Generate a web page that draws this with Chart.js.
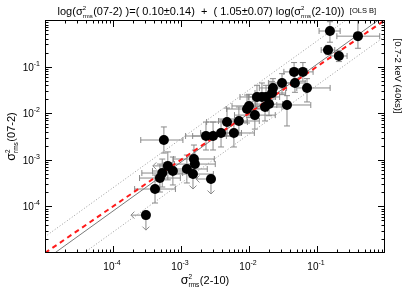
<!DOCTYPE html>
<html><head><meta charset="utf-8">
<script src="https://cdn.jsdelivr.net/npm/chart.js@4.4.0/dist/chart.umd.min.js"></script>
<style>html,body{margin:0;padding:0;background:#fff}#wrap{width:407px;height:291px;position:relative}</style>
</head><body><div id="wrap"><canvas id="c" width="407" height="291"></canvas></div>
<script>
// ---- data ----
const xVals = [0.155,0.40,0.145,0.21,0.046,0.062,0.0306,0.0474,0.0713,0.0225,0.0218,0.0131,0.0155,0.0178,0.0172,0.0197,0.0362,0.00935,0.010,0.0122,0.0071,5.6e-4,0.00233,0.00296,0.00388,0.00475,0.006,0.00155,0.0016,6.4e-4,5.3e-4,7.6e-4,0.00122,0.0015,0.00276,4.9e-4,4.15e-4,3.05e-4];
const yVals = [0.58,0.45,0.227,0.169,0.077,0.077,0.0445,0.0445,0.0348,0.0348,0.0271,0.0223,0.0223,0.0223,0.0136,0.0157,0.015,0.0123,0.0143,0.0091,0.0068,0.00266,0.00324,0.00324,0.00376,0.00647,0.00376,0.00104,8.1e-4,7.4e-4,5.2e-4,5.75e-4,6.35e-4,4.95e-4,3.87e-4,4.06e-4,2.36e-4,6.5e-5];
// error bars in dex
const xErrLo = [0.16,0.31,0.10,0.12,0.15,0.15,0.20,0.15,0.15,0.20,0.25,0.25,0.20,0.20,0.25,0.20,0.15,0.30,0.25,0.30,0.30,0.34,0.30,0.30,0.30,0.30,0.30,0.30,0.30,0,0.30,0.30,0.30,0.30,0,0.30,0.30,0];
const xErrHi = [0.15,0.32,0.10,0.12,0.15,0.15,0.20,0.15,0.34,0.20,0.20,0.25,0.20,0.20,0.25,0.20,0.35,0.30,0.25,0.30,0.30,0.28,0.30,0.30,0.30,0.30,0.30,0.30,0.30,0,0.30,0.30,0.30,0.30,0,0.30,0.30,0];
const yErrLo = [0.24,0.26,0.10,0.12,0.20,0.20,0.25,0.20,0.30,0.20,0.25,0.25,0.20,0.25,0.30,0.25,0.45,0.30,0.25,0.30,0.30,0.28,0.30,0.30,0.30,0.30,0.30,0.30,0.30,0.30,0.30,0.30,0.30,0,0,0.30,0.30,0];
const yErrHi = [0.20,0.34,0.10,0.12,0.20,0.20,0.20,0.20,0.20,0.20,0.25,0.25,0.30,0.25,0.25,0.25,0.20,0.30,0.25,0.30,0.30,0.28,0.30,0.30,0.30,0.30,0.30,0.30,0.30,0.30,0.30,0.30,0.30,0,0,0.30,0.30,0];
const xIsLimit = [0,0,0,0,0,0,0,0,0,0,0,0,0,0,0,0,0,0,0,0,0,0,0,0,0,0,0,0,0,1,0,0,0,0,1,0,0,1];
const yIsLimit = [0,0,0,0,0,0,0,0,0,0,0,0,0,0,0,0,0,0,0,0,0,0,0,0,0,0,0,0,0,0,0,0,0,1,1,0,0,1];
const fitIntercept = 0.10, fitInterceptErr = 0.14, fitSlope = 1.05, fitSlopeErr = 0.07;
const bandUp = 0.5, bandDown = -0.45;
const axisMin = 1e-5, axisMax = 1;
const xTickExps = [-4,-3,-2,-1];
const yTickExps = [-4,-3,-2,-1];

const fitY = (x, off) => Math.pow(10, fitIntercept + off + fitSlope*Math.log10(x));
const lineX = [axisMin, axisMax];

const FONT = '"Liberation Sans", Arial, Helvetica, sans-serif';

function drawRich(ctx, parts, x, y, align){
  const widths = parts.map(p=>{
    ctx.font = p.size+'px '+FONT;
    if(p.stack){ const a=ctx.measureText(p.sup).width, b=ctx.measureText(p.sub).width; return Math.max(a,b)+0.5; }
    return ctx.measureText(p.t).width;
  });
  const w = widths.reduce((s,v)=>s+v,0);
  let cx = align==='center' ? x - w/2 : (align==='right' ? x - w : x);
  ctx.textAlign='left'; ctx.textBaseline='alphabetic';
  parts.forEach((p,i)=>{
    ctx.font = p.size+'px '+FONT;
    if(p.stack){
      ctx.fillText(p.sup, cx, y - p.upOff);
      ctx.fillText(p.sub, cx, y + p.downOff);
    } else {
      ctx.fillText(p.t, cx, y - (p.dy||0));
    }
    cx += widths[i];
  });
  return w;
}

const errPlugin = {
  id:'errbars',
  beforeDatasetsDraw(chart){
    const {ctx, chartArea:a} = chart; const xs = chart.scales.x, ys = chart.scales.y;
    ctx.save();
    ctx.beginPath(); ctx.rect(a.left,a.top,a.right-a.left,a.bottom-a.top); ctx.clip();
    ctx.strokeStyle='#8a8a8a'; ctx.lineWidth=1;
    const cap=3, alen=15, ah=3.5;
    for(let i=0;i<xVals.length;i++){
      const px=xs.getPixelForValue(xVals[i]), py=ys.getPixelForValue(yVals[i]);
      ctx.beginPath();
      if(xIsLimit[i]){
        ctx.moveTo(px,py); ctx.lineTo(px-alen,py);
        ctx.moveTo(px-alen+ah,py-ah); ctx.lineTo(px-alen,py); ctx.lineTo(px-alen+ah,py+ah);
      } else {
        const x0=xs.getPixelForValue(xVals[i]/Math.pow(10,xErrLo[i])), x1=xs.getPixelForValue(xVals[i]*Math.pow(10,xErrHi[i]));
        ctx.moveTo(x0,py); ctx.lineTo(x1,py);
        ctx.moveTo(x0,py-cap); ctx.lineTo(x0,py+cap);
        ctx.moveTo(x1,py-cap); ctx.lineTo(x1,py+cap);
      }
      if(yIsLimit[i]){
        ctx.moveTo(px,py); ctx.lineTo(px,py+alen);
        ctx.moveTo(px-ah,py+alen-ah); ctx.lineTo(px,py+alen); ctx.lineTo(px+ah,py+alen-ah);
      } else {
        const y0=ys.getPixelForValue(yVals[i]/Math.pow(10,yErrLo[i])), y1=ys.getPixelForValue(yVals[i]*Math.pow(10,yErrHi[i]));
        ctx.moveTo(px,y0); ctx.lineTo(px,y1);
        ctx.moveTo(px-cap,y0); ctx.lineTo(px+cap,y0);
        ctx.moveTo(px-cap,y1); ctx.lineTo(px+cap,y1);
      }
      ctx.stroke();
    }
    ctx.restore();
  }
};

const framePlugin = {
  id:'frame',
  afterDraw(chart){
    const {ctx, chartArea:a} = chart; const xs = chart.scales.x, ys = chart.scales.y;
    ctx.save();
    ctx.strokeStyle='#000'; ctx.lineWidth=1;
    ctx.strokeRect(a.left+0.5,a.top+0.5,a.right-a.left-1,a.bottom-a.top-1);
    ctx.beginPath();
    for(let d=-5; d<0; d++){
      for(let m=1;m<10;m++){
        const v=m*Math.pow(10,d);
        const L = m===1 ? 7 : 3.5;
        if(m===1 && d===-5) continue;
        const px=Math.round(xs.getPixelForValue(v))+0.5;
        ctx.moveTo(px,a.bottom); ctx.lineTo(px,a.bottom-L);
        ctx.moveTo(px,a.top); ctx.lineTo(px,a.top+L);
        const py=Math.round(ys.getPixelForValue(v))+0.5;
        ctx.moveTo(a.left,py); ctx.lineTo(a.left+L,py);
        ctx.moveTo(a.right,py); ctx.lineTo(a.right-L,py);
      }
    }
    ctx.stroke();
    ctx.fillStyle='#000';
    xTickExps.forEach(e=>{
      const px=xs.getPixelForValue(Math.pow(10,e));
      drawRich(ctx,[{t:'10',size:10},{t:String(e),size:7,dy:5}],px-1,a.bottom+17,'center');
    });
    yTickExps.forEach(e=>{
      const py=ys.getPixelForValue(Math.pow(10,e));
      drawRich(ctx,[{t:'10',size:10},{t:String(e),size:7,dy:5}],a.left-5,py+4,'right');
    });
    // title
    const sig = {stack:true,sup:'2',sub:'rms',size:6,upOff:5,downOff:3};
    drawRich(ctx,[{t:'log(σ',size:11},sig,{t:'(07-2) )=( '+fitIntercept.toFixed(2)+'±'+fitInterceptErr.toFixed(2)+')  +  ( '+fitSlope.toFixed(2)+'±'+fitSlopeErr.toFixed(2)+') log(σ',size:11},sig,{t:'(2-10))',size:11}],201,15,'center');
    drawRich(ctx,[{t:'[OLS B]',size:7.5}],363,13,'center');
    // axis titles
    const sig2 = {stack:true,sup:'2',sub:'rms',size:6.5,upOff:5.5,downOff:3};
    drawRich(ctx,[{t:'σ',size:12.5},sig2,{t:'(2-10)',size:11}],(a.left+a.right)/2-10,284,'center');
    ctx.save(); ctx.translate(15,(a.top+a.bottom)/2); ctx.rotate(-Math.PI/2);
    drawRich(ctx,[{t:'σ',size:12.5},sig2,{t:'(07-2)',size:11}],0,0,'center');
    ctx.restore();
    // right label
    ctx.save(); ctx.translate(395,76); ctx.rotate(Math.PI/2);
    drawRich(ctx,[{t:'[0.7-2 keV (40ks)]',size:9.5}],0,0,'center');
    ctx.restore();
    ctx.restore();
  }
};

new Chart(document.getElementById('c'),{
  data:{datasets:[
    {type:'scatter',data:xVals.map((x,i)=>({x,y:yVals[i]})),pointRadius:5,pointBackgroundColor:'#000',pointBorderColor:'#000',pointBorderWidth:0,pointHoverRadius:5},
    {type:'line',data:lineX.map(x=>({x,y:x})),borderColor:'#ff1a1a',borderWidth:2,borderDash:[5,4],pointRadius:0,fill:false},
    {type:'line',data:lineX.map(x=>({x,y:fitY(x,0)})),borderColor:'#7a7a7a',borderWidth:1,pointRadius:0,fill:false},
    {type:'line',data:lineX.map(x=>({x,y:fitY(x,bandUp)})),borderColor:'#9a9a9a',borderWidth:1,borderDash:[1,2],pointRadius:0,fill:false},
    {type:'line',data:lineX.map(x=>({x,y:fitY(x,bandDown)})),borderColor:'#9a9a9a',borderWidth:1,borderDash:[1,2],pointRadius:0,fill:false}
  ]},
  options:{
    responsive:false,animation:false,events:[],
    layout:{padding:{left:45,right:22,top:20,bottom:38}},
    plugins:{legend:{display:false},tooltip:{enabled:false}},
    scales:{
      x:{type:'logarithmic',min:axisMin,max:axisMax,display:false},
      y:{type:'logarithmic',min:axisMin,max:axisMax,display:false}
    }
  },
  plugins:[errPlugin,framePlugin]
});
</script></body></html>
